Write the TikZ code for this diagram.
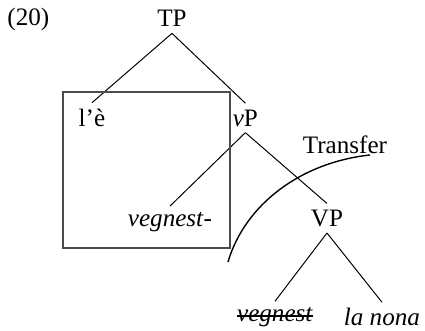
\documentclass[tikz,border=0pt]{standalone}
\usepackage{fontspec}
\setmainfont{Liberation Serif}
\usepackage{tikz}
\usetikzlibrary{positioning,calc}
\tikzset{
  lbl/.style     ={inner sep=3pt, font=\fontsize{12.6}{15}\selectfont},
  branch/.style  ={line width=0.5pt, draw=black},
  phasebox/.style={draw=black!70, line width=0.6pt},
  transfer/.style={line width=0.7pt, draw=black},
  strike/.style  ={line width=0.7pt, draw=black},
}

\begin{document}
\begin{tikzpicture}[x=1cm,y=1cm]
        \useasboundingbox (0,0) rectangle (7.5,5.841);
        % example number
        \node[lbl] (exno) at (0.50,5.49) {(20)};
        % tree
        \node[lbl] (tp)    at (3.035,5.51) {TP};
        \node[lbl] (le)    at (1.623,3.76) {l’è};
        \node[lbl] (vp)    at (4.330,3.76) {\textit{v}P};
        \node[lbl] (vegn)  at (3.000,1.92) {\textit{vegnest}-};
        \node[lbl] (bigvp) at (5.770,1.99) {VP};
        \node[lbl] (vcopy) at (4.853,0.24) {\textit{vegnest}};
        \node[lbl] (nona)  at (6.740,0.24) {\textit{la nona}};
        \node[lbl] (trf)   at (6.088,3.29) {Transfer};
        \draw[branch] (tp.south) -- (le.north);
        \draw[branch] (tp.south) -- (vp.north);
        \draw[branch] (vp.south) -- (vegn.north);
        \draw[branch] (vp.south) -- (bigvp.north);
        \draw[branch] (bigvp.south) -- (vcopy.north);
        \draw[branch] (bigvp.south) -- (nona.north);
        % struck-out copy
        \draw[strike] ($(vcopy.base west)+(3pt,2.9pt)$) -- ($(vcopy.base east)+(-3pt,2.9pt)$);
        % phase box
        \draw[phasebox] (1.112,4.217) rectangle (4.059,1.465);
        % transfer boundary
        \coordinate (cstart) at (4.023,1.218);
        \coordinate (cend)   at (6.529,3.106);
        \draw[transfer] (cstart) .. controls (4.32,2.22) and (5.29,2.97) .. (cend);
      \end{tikzpicture}
\end{document}
